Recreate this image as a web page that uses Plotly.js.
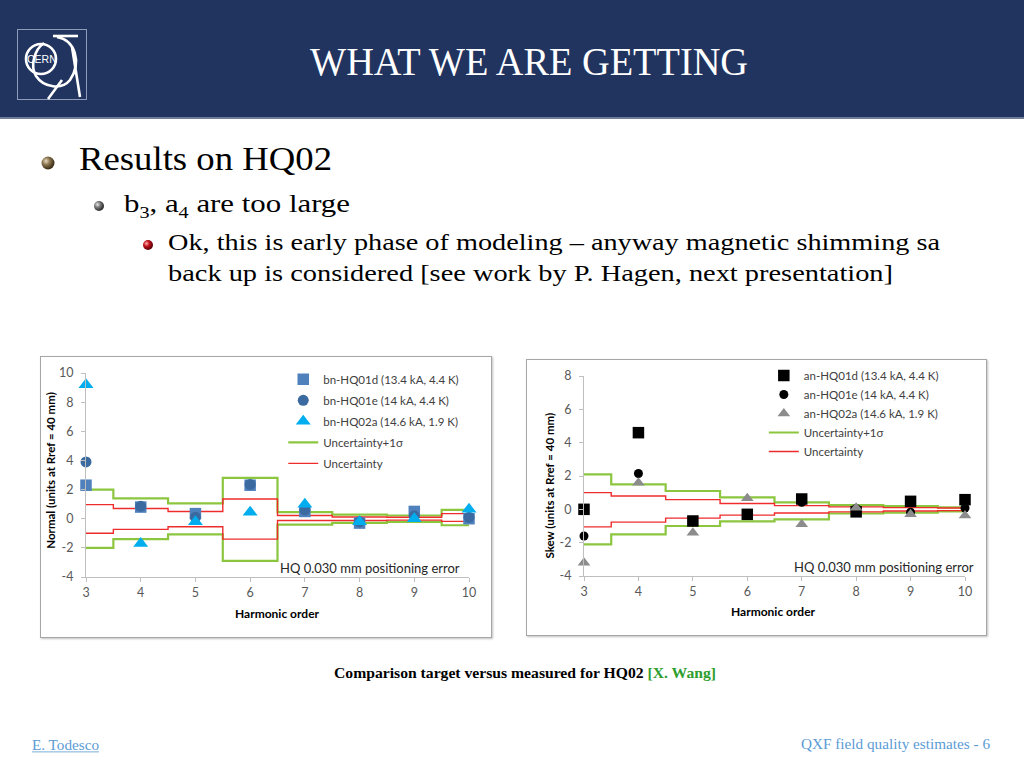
<!DOCTYPE html>
<html>
<head>
<meta charset="utf-8">
<script src="https://cdn.plot.ly/plotly-3.0.1.min.js"></script>
<style>
  html, body { margin:0; padding:0; width:1024px; height:768px; overflow:hidden; background:#ffffff; }
  #slide { position:absolute; left:0; top:0; width:1024px; height:768px; }
  .chartbox { position:absolute; background:#fff; border:1px solid #a6a6a6; box-shadow:1px 1px 2px rgba(0,0,0,0.25); }
  #left { left:40px; top:356px; width:450px; height:280px; }
  #right { left:526px; top:359px; width:459px; height:275px; }
</style>
</head>
<body>
<svg id="slide" width="1024" height="768" xmlns="http://www.w3.org/2000/svg">
  <defs>
    <radialGradient id="gBrown" cx="35%" cy="35%" r="65%">
      <stop offset="0%" stop-color="#e8dcc0"/>
      <stop offset="45%" stop-color="#8a7550"/>
      <stop offset="100%" stop-color="#3a2c15"/>
    </radialGradient>
    <radialGradient id="gGray" cx="35%" cy="35%" r="65%">
      <stop offset="0%" stop-color="#e6e6e6"/>
      <stop offset="45%" stop-color="#7a7a7a"/>
      <stop offset="100%" stop-color="#2a2a2a"/>
    </radialGradient>
    <radialGradient id="gRed" cx="35%" cy="35%" r="65%">
      <stop offset="0%" stop-color="#ffb0b0"/>
      <stop offset="45%" stop-color="#c0141c"/>
      <stop offset="100%" stop-color="#5a0008"/>
    </radialGradient>
  </defs>
  <rect x="0" y="0" width="1024" height="117" fill="#21345f"/>
  <rect x="0" y="117" width="1024" height="2" fill="#6f7c9c"/>
  <!-- CERN logo -->
  <rect x="17.5" y="29.5" width="69" height="70" fill="none" stroke="#8f9bb8" stroke-width="1"/>
  <g fill="none" stroke="#ffffff" stroke-width="2.6">
    <circle cx="41" cy="59" r="15"/>
    <path d="M 53 36 L 78 36"/>
    <path d="M 57 37 C 75 40, 82 62, 70 80 C 62 90, 44 88, 36 76 C 30 66, 34 50, 44 43"/>
    <path d="M 72 47 L 80 97"/>
    <path d="M 62 80 L 48 99"/>
  </g>
  <text x="27" y="63" font-family="Liberation Sans, Arial" font-size="10.5" fill="#ffffff">CERN</text>
  <!-- Title -->
  <text x="310" y="75" textLength="438" lengthAdjust="spacingAndGlyphs" font-family="Liberation Serif, serif" font-size="40" fill="#ffffff">WHAT WE ARE GETTING</text>
  <!-- Bullets -->
  <circle cx="48" cy="163" r="6.5" fill="url(#gBrown)"/>
  <circle cx="99" cy="206" r="5" fill="url(#gGray)"/>
  <circle cx="148" cy="245" r="5" fill="url(#gRed)"/>
  <text x="79" y="170" textLength="253" lengthAdjust="spacingAndGlyphs" font-family="Liberation Serif, serif" font-size="33" fill="#000">Results on HQ02</text>
  <text x="124" y="212" textLength="226" lengthAdjust="spacingAndGlyphs" font-family="Liberation Serif, serif" font-size="26" fill="#000">b<tspan font-size="17" dy="6">3</tspan><tspan dy="-6">, a</tspan><tspan font-size="17" dy="6">4</tspan><tspan dy="-6"> are too large</tspan></text>
  <text x="168" y="250" textLength="772" lengthAdjust="spacingAndGlyphs" font-family="Liberation Serif, serif" font-size="24" fill="#000">Ok, this is early phase of modeling – anyway magnetic shimming sa</text>
  <text x="168" y="281" textLength="725" lengthAdjust="spacingAndGlyphs" font-family="Liberation Serif, serif" font-size="24" fill="#000">back up is considered [see work by P. Hagen, next presentation]</text>
  <!-- Caption -->
  <text x="334" y="678" textLength="382" lengthAdjust="spacingAndGlyphs" font-family="Liberation Serif, serif" font-weight="bold" font-size="14" fill="#000">Comparison target versus measured for HQ02 <tspan fill="#2e9e2e">[X. Wang]</tspan></text>
  <!-- Footer -->
  <text x="32" y="750" textLength="67" lengthAdjust="spacingAndGlyphs" font-family="Liberation Serif, serif" font-size="14" fill="#5b9bd5">E. Todesco</text>
  <rect x="32" y="751.5" width="67" height="0.8" fill="#5b9bd5"/>
  <text x="801" y="749" textLength="189" lengthAdjust="spacingAndGlyphs" font-family="Liberation Serif, serif" font-size="14" fill="#5b9bd5">QXF field quality estimates - 6</text>
</svg>
<div id="left" class="chartbox"></div>
<div id="right" class="chartbox"></div>
<script>
// ---------- Data ----------
var harm = [3, 4, 5, 6, 7, 8, 9, 10];
var xTicks = [3, 4, 5, 6, 7, 8, 9, 10];
var xTickText = ['3', '4', '5', '6', '7', '8', '9', '10'];
var yTicksLeft = [-4, -2, 0, 2, 4, 6, 8, 10];
var yTickTextLeft = ['-4', '-2', '0', '2', '4', '6', '8', '10'];
var yTicksRight = [-4, -2, 0, 2, 4, 6, 8];
var yTickTextRight = ['-4', '-2', '0', '2', '4', '6', '8'];

// Normal (bn)
var bnHQ01d = [2.3, 0.8, 0.35, 2.3, 0.5, -0.3, 0.5, 0.0];
var bnHQ01e = [3.9, 0.85, 0.1, 2.35, 0.6, -0.2, 0.2, 0.1];
var bnHQ02a = [9.2, -1.7, -0.2, 0.45, 1.0, -0.2, 0.0, 0.65];
var bnUnc1sUp = [2.0, 1.4, 1.05, 2.8, 0.45, 0.28, 0.22, 0.6];
var bnUnc1sLo = [-2.0, -1.4, -1.07, -2.9, -0.4, -0.28, -0.22, -0.45];
var bnUncUp = [0.97, 0.7, 0.5, 1.35, 0.22, 0.12, 0.1, 0.35];
var bnUncLo = [-1.0, -0.73, -0.55, -1.4, -0.12, -0.12, -0.1, -0.18];

// Skew (an)
var anHQ01d = [0.0, 4.6, -0.7, -0.3, 0.62, -0.15, 0.48, 0.58];
var anHQ01e = [-1.6, 2.15, -0.75, -0.3, 0.42, 0.05, -0.17, 0.08];
var anHQ02a = [-3.2, 1.6, -1.4, 0.66, -0.9, 0.1, -0.3, -0.37];
var anUnc1sUp = [2.1, 1.5, 1.1, 0.72, 0.42, 0.25, 0.2, 0.12];
var anUnc1sLo = [-2.1, -1.5, -1.0, -0.72, -0.6, -0.25, -0.2, -0.12];
var anUncUp = [1.0, 0.8, 0.58, 0.35, 0.22, 0.15, 0.1, 0.08];
var anUncLo = [-1.05, -0.77, -0.53, -0.35, -0.22, -0.15, -0.1, -0.08];

var labelsLeft = ['bn-HQ01d (13.4 kA, 4.4 K)', 'bn-HQ01e (14 kA, 4.4 K)', 'bn-HQ02a (14.6 kA, 1.9 K)', 'Uncertainty+1σ', 'Uncertainty'];
var labelsRight = ['an-HQ01d (13.4 kA, 4.4 K)', 'an-HQ01e (14 kA, 4.4 K)', 'an-HQ02a (14.6 kA, 1.9 K)', 'Uncertainty+1σ', 'Uncertainty'];
var noteText = 'HQ 0.030 mm positioning error';

// ---------- Styles ----------
var FONT = 'Lato, "Open Sans", sans-serif';
var GREEN = '#8cc63f';
var RED = '#ee2c2c';

function lineTrace(y, color, width, name, show, rank) {
  return { x: harm, y: y, type: 'scatter', mode: 'lines', name: name,
    line: { color: color, width: width, shape: 'hvh' }, showlegend: show,
    legendrank: rank, legendgroup: name, hoverinfo: 'skip' };
}
function markTrace(y, symbol, color, size, name, rank) {
  return { x: harm, y: y, type: 'scatter', mode: 'markers', name: name,
    marker: { symbol: symbol, color: color, size: size }, cliponaxis: false,
    legendrank: rank, legendgroup: name };
}
function axisStyle(extra) {
  var a = { showline: true, linecolor: '#bfbfbf', linewidth: 1, ticks: 'outside',
    ticklen: 4, tickcolor: '#bfbfbf', showgrid: false, zeroline: false, automargin: false,
    tickfont: { family: FONT, size: 12.5, color: '#595959' }, fixedrange: true };
  for (var k in extra) a[k] = extra[k];
  return a;
}

// ---------- Left chart ----------
var leftData = [
  lineTrace(bnUnc1sUp, GREEN, 2.2, labelsLeft[3], true, 4),
  lineTrace(bnUnc1sLo, GREEN, 2.2, labelsLeft[3], false, 4),
  lineTrace(bnUncUp, RED, 1.4, labelsLeft[4], true, 5),
  lineTrace(bnUncLo, RED, 1.4, labelsLeft[4], false, 5),
  markTrace(bnHQ01d, 'square', '#4f81bd', 11.5, labelsLeft[0], 1),
  markTrace(bnHQ01e, 'circle', '#3b6aa0', 11, labelsLeft[1], 2),
  markTrace(bnHQ02a, 'triangle-up', '#00aeef', 13, labelsLeft[2], 3)
];
var leftLayout = {
  width: 450, height: 280,
  margin: { l: 45, r: 22, t: 16, b: 60, autoexpand: false },
  paper_bgcolor: '#ffffff', plot_bgcolor: '#ffffff',
  showlegend: true,
  legend: { x: 0.515, y: 1.04, xanchor: 'left', yanchor: 'top', bgcolor: 'rgba(0,0,0,0)',
    font: { family: FONT, size: 11.5, color: '#404040' }, traceorder: 'grouped', tracegroupgap: 2, itemwidth: 30 },
  xaxis: axisStyle({ range: [3, 10], tickmode: 'array', tickvals: xTicks, ticktext: xTickText, ticklabelstandoff: 0 }),
  yaxis: axisStyle({ range: [-4, 10], tickmode: 'array', tickvals: yTicksLeft, ticktext: yTickTextLeft, ticklabelstandoff: 5 }),
  annotations: [
    { xref: 'paper', yref: 'paper', x: -0.092, y: 0.52, xanchor: 'center', yanchor: 'middle',
      text: '<b>Normal (units at Rref = 40 mm)</b>', textangle: -90,
      showarrow: false, font: { family: FONT, size: 11.5, color: '#000' } },
    { xref: 'paper', yref: 'paper', x: 0.499, y: -0.181, xanchor: 'center', yanchor: 'middle',
      text: '<b>Harmonic order</b>',
      showarrow: false, font: { family: FONT, size: 12, color: '#000' } },
    { xref: 'x', yref: 'y', x: 8.19, y: -3.35, xanchor: 'center', yanchor: 'middle', text: noteText,
      showarrow: false, font: { family: FONT, size: 13, color: '#262626' } }
  ]
};

// ---------- Right chart ----------
var rightData = [
  lineTrace(anUnc1sUp, GREEN, 2.2, labelsRight[3], true, 4),
  lineTrace(anUnc1sLo, GREEN, 2.2, labelsRight[3], false, 4),
  lineTrace(anUncUp, RED, 1.4, labelsRight[4], true, 5),
  lineTrace(anUncLo, RED, 1.4, labelsRight[4], false, 5),
  markTrace(anHQ01d, 'square', '#000000', 11.5, labelsRight[0], 1),
  markTrace(anHQ01e, 'circle', '#000000', 9, labelsRight[1], 2),
  markTrace(anHQ02a, 'triangle-up', '#8c8c8c', 11, labelsRight[2], 3)
];
var rightLayout = {
  width: 459, height: 275,
  margin: { l: 57, r: 21, t: 16, b: 59, autoexpand: false },
  paper_bgcolor: '#ffffff', plot_bgcolor: '#ffffff',
  showlegend: true,
  legend: { x: 0.472, y: 1.075, xanchor: 'left', yanchor: 'top', bgcolor: 'rgba(0,0,0,0)',
    font: { family: FONT, size: 11.5, color: '#404040' }, traceorder: 'grouped', tracegroupgap: 0, itemwidth: 30 },
  xaxis: axisStyle({ range: [3, 10], tickmode: 'array', tickvals: xTicks, ticktext: xTickText, ticklabelstandoff: 0 }),
  yaxis: axisStyle({ range: [-4, 8], tickmode: 'array', tickvals: yTicksRight, ticktext: yTickTextRight, ticklabelstandoff: 5 }),
  annotations: [
    { xref: 'paper', yref: 'paper', x: -0.093, y: 0.45, xanchor: 'center', yanchor: 'middle',
      text: '<b>Skew (units at Rref = 40 mm)</b>', textangle: -90,
      showarrow: false, font: { family: FONT, size: 11.5, color: '#000' } },
    { xref: 'paper', yref: 'paper', x: 0.498, y: -0.178, xanchor: 'center', yanchor: 'middle',
      text: '<b>Harmonic order</b>',
      showarrow: false, font: { family: FONT, size: 12, color: '#000' } },
    { xref: 'x', yref: 'y', x: 8.52, y: -3.45, xanchor: 'center', yanchor: 'middle', text: noteText,
      showarrow: false, font: { family: FONT, size: 13, color: '#262626' } }
  ]
};

var config = { staticPlot: true, displayModeBar: false };
Plotly.newPlot('left', leftData, leftLayout, config);
Plotly.newPlot('right', rightData, rightLayout, config);
</script>
</body>
</html>
